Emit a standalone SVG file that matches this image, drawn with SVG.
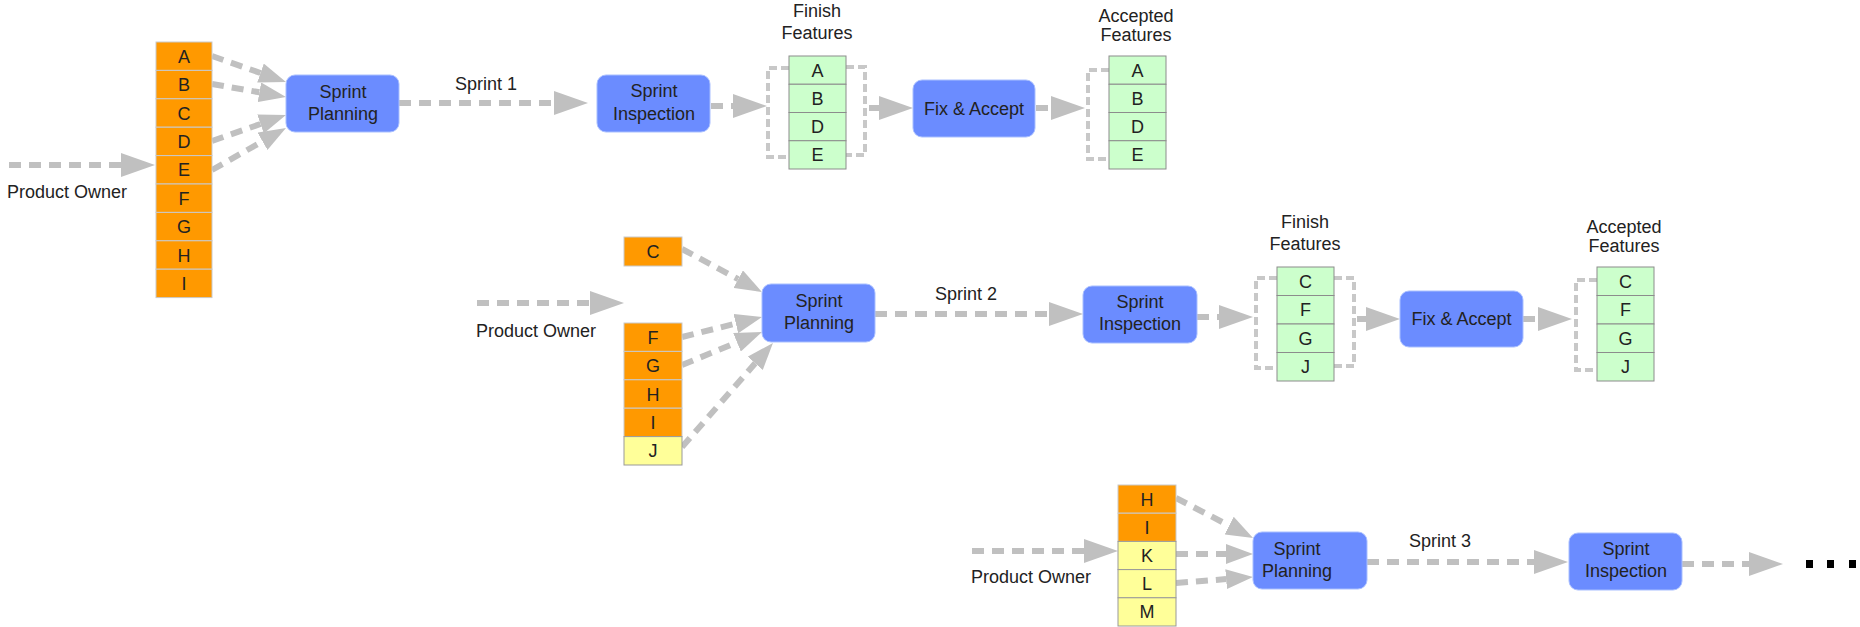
<svg xmlns="http://www.w3.org/2000/svg" width="1860" height="627" viewBox="0 0 1860 627">
<defs>
<style>
text{font-family:"Liberation Sans",Arial,sans-serif;font-size:18px;fill:#222}
.c{text-anchor:middle}
.box{fill:#6b8cff;stroke:#a9bfff;stroke-width:1}
.or{fill:#ff9900;stroke:#c9c9c9;stroke-width:1}
.ye{fill:#ffff99;stroke:#999;stroke-width:1}
.gr{fill:#ccffcc;stroke:#8c8c8c;stroke-width:1}
.ln{fill:none;stroke:#c0c0c0;stroke-width:6;stroke-dasharray:12 8}
.br{fill:none;stroke:#c8c8c8;stroke-width:4;stroke-dasharray:8 4}
</style>
<marker id="ah" markerUnits="userSpaceOnUse" markerWidth="34" markerHeight="24" refX="0" refY="12" orient="auto" viewBox="0 0 34 24"><path d="M0,0 L34,12 L0,24 Z" fill="#c0c0c0"/></marker>
<marker id="ahs" markerUnits="userSpaceOnUse" markerWidth="27" markerHeight="20" refX="0" refY="10" orient="auto" viewBox="0 0 27 20"><path d="M0,0 L27,10 L0,20 Z" fill="#c0c0c0"/></marker>
</defs>
<rect width="1860" height="627" fill="#fff"/>

<g id="connectors">
<!-- row 1 -->
<path class="ln" d="M9,165 H121" marker-end="url(#ah)"/>
<path class="ln" d="M212,56 L260.5,73" marker-end="url(#ahs)"/>
<path class="ln" d="M212,84 L259.4,92.3" marker-end="url(#ahs)"/>
<path class="ln" d="M212,141 L260.5,124" marker-end="url(#ahs)"/>
<path class="ln" d="M212,170 L262.5,141.3" marker-end="url(#ahs)"/>
<path class="ln" d="M399,103 H554" marker-end="url(#ah)"/>
<path class="ln" d="M711,106 H733" marker-end="url(#ah)"/>
<path class="ln" d="M869,108 H879" marker-end="url(#ah)"/>
<path class="ln" d="M1036,108 H1051" marker-end="url(#ah)"/>
<path class="br" d="M789,68 H768 V157 H789"/>
<path class="br" d="M846,67 H865 V155 H846"/>
<path class="br" d="M1109,70 H1088 V159 H1109"/>
<!-- row 2 -->
<path class="ln" d="M477,303 H590" marker-end="url(#ah)"/>
<path class="ln" d="M682,249 L738.2,279.2" marker-end="url(#ahs)"/>
<path class="ln" d="M682,337 L735.8,323.6" marker-end="url(#ahs)"/>
<path class="ln" d="M682,365 L737,342.3" marker-end="url(#ahs)"/>
<path class="ln" d="M682,447 L755.2,363.3" marker-end="url(#ahs)"/>
<path class="ln" d="M875,314 H1049" marker-end="url(#ah)"/>
<path class="ln" d="M1197,317 H1219" marker-end="url(#ah)"/>
<path class="ln" d="M1357,319 H1366" marker-end="url(#ah)"/>
<path class="ln" d="M1523,319 H1538" marker-end="url(#ah)"/>
<path class="br" d="M1277,278 H1256 V368 H1277"/>
<path class="br" d="M1334,278 H1354 V366 H1334"/>
<path class="br" d="M1597,280 H1576 V370 H1597"/>
<!-- row 3 -->
<path class="ln" d="M972,551 H1084" marker-end="url(#ah)"/>
<path class="ln" d="M1176,498 L1229.1,525.6" marker-end="url(#ahs)"/>
<path class="ln" d="M1176,554 H1226" marker-end="url(#ahs)"/>
<path class="ln" d="M1176,583 L1226.1,579.1" marker-end="url(#ahs)"/>
<path class="ln" d="M1367,562 H1534" marker-end="url(#ah)"/>
<path class="ln" d="M1682,564 H1749" marker-end="url(#ah)"/>
</g>

<!-- ROW 1 -->
<g id="po1"><text x="7" y="198">Product Owner</text></g>
<g id="backlog1">
<rect class="or" x="156" y="42" width="56" height="28.4"/><text class="c" x="184" y="62.7">A</text>
<rect class="or" x="156" y="70.4" width="56" height="28.4"/><text class="c" x="184" y="91.1">B</text>
<rect class="or" x="156" y="98.8" width="56" height="28.4"/><text class="c" x="184" y="119.5">C</text>
<rect class="or" x="156" y="127.2" width="56" height="28.4"/><text class="c" x="184" y="147.9">D</text>
<rect class="or" x="156" y="155.6" width="56" height="28.4"/><text class="c" x="184" y="176.3">E</text>
<rect class="or" x="156" y="184" width="56" height="28.4"/><text class="c" x="184" y="204.7">F</text>
<rect class="or" x="156" y="212.4" width="56" height="28.4"/><text class="c" x="184" y="233.1">G</text>
<rect class="or" x="156" y="240.8" width="56" height="28.4"/><text class="c" x="184" y="261.5">H</text>
<rect class="or" x="156" y="269.2" width="56" height="28.4"/><text class="c" x="184" y="289.9">I</text>
</g>
<g id="planning1"><rect class="box" x="286" y="75" width="113" height="57" rx="9"/><text class="c" x="343" y="98">Sprint</text><text class="c" x="343" y="120">Planning</text></g>
<g id="sprint1"><text class="c" x="486" y="90">Sprint 1</text></g>
<g id="inspection1"><rect class="box" x="597" y="75" width="113" height="57" rx="9"/><text class="c" x="654" y="97">Sprint</text><text class="c" x="654" y="120">Inspection</text></g>
<g id="finish1">
<text class="c" x="817" y="17">Finish</text><text class="c" x="817" y="39">Features</text>
<rect class="gr" x="789" y="56" width="57" height="28.25"/><text class="c" x="817.5" y="76.6">A</text>
<rect class="gr" x="789" y="84.25" width="57" height="28.25"/><text class="c" x="817.5" y="104.9">B</text>
<rect class="gr" x="789" y="112.5" width="57" height="28.25"/><text class="c" x="817.5" y="133.1">D</text>
<rect class="gr" x="789" y="140.75" width="57" height="28.25"/><text class="c" x="817.5" y="161.4">E</text>
</g>
<g id="fix1"><rect class="box" x="913" y="80" width="122" height="57" rx="9"/><text class="c" x="974" y="115">Fix &amp; Accept</text></g>
<g id="accepted1">
<text class="c" x="1136" y="22">Accepted</text><text class="c" x="1136" y="41">Features</text>
<rect class="gr" x="1109" y="56" width="57" height="28.25"/><text class="c" x="1137.5" y="76.6">A</text>
<rect class="gr" x="1109" y="84.25" width="57" height="28.25"/><text class="c" x="1137.5" y="104.9">B</text>
<rect class="gr" x="1109" y="112.5" width="57" height="28.25"/><text class="c" x="1137.5" y="133.1">D</text>
<rect class="gr" x="1109" y="140.75" width="57" height="28.25"/><text class="c" x="1137.5" y="161.4">E</text>
</g>

<!-- ROW 2 -->
<g id="po2"><text x="476" y="337">Product Owner</text></g>
<g id="backlog2">
<rect class="or" x="624" y="237" width="58" height="29"/><text class="c" x="653" y="258">C</text>
<rect class="or" x="624" y="323" width="58" height="28.4"/><text class="c" x="653" y="343.7">F</text>
<rect class="or" x="624" y="351.4" width="58" height="28.4"/><text class="c" x="653" y="372.1">G</text>
<rect class="or" x="624" y="379.8" width="58" height="28.4"/><text class="c" x="653" y="400.5">H</text>
<rect class="or" x="624" y="408.2" width="58" height="28.4"/><text class="c" x="653" y="428.9">I</text>
<rect class="ye" x="624" y="436.6" width="58" height="28.4"/><text class="c" x="653" y="457.3">J</text>
</g>
<g id="planning2"><rect class="box" x="762" y="284" width="113" height="58" rx="9"/><text class="c" x="819" y="307">Sprint</text><text class="c" x="819" y="329">Planning</text></g>
<g id="sprint2"><text class="c" x="966" y="300">Sprint 2</text></g>
<g id="inspection2"><rect class="box" x="1083" y="286" width="114" height="57" rx="9"/><text class="c" x="1140" y="308">Sprint</text><text class="c" x="1140" y="330">Inspection</text></g>
<g id="finish2">
<text class="c" x="1305" y="228">Finish</text><text class="c" x="1305" y="250">Features</text>
<rect class="gr" x="1277" y="267" width="57" height="28.5"/><text class="c" x="1305.5" y="287.7">C</text>
<rect class="gr" x="1277" y="295.5" width="57" height="28.5"/><text class="c" x="1305.5" y="316.2">F</text>
<rect class="gr" x="1277" y="324" width="57" height="28.5"/><text class="c" x="1305.5" y="344.7">G</text>
<rect class="gr" x="1277" y="352.5" width="57" height="28.5"/><text class="c" x="1305.5" y="373.2">J</text>
</g>
<g id="fix2"><rect class="box" x="1400" y="291" width="123" height="56" rx="9"/><text class="c" x="1461.5" y="325">Fix &amp; Accept</text></g>
<g id="accepted2">
<text class="c" x="1624" y="233">Accepted</text><text class="c" x="1624" y="252">Features</text>
<rect class="gr" x="1597" y="267" width="57" height="28.5"/><text class="c" x="1625.5" y="287.7">C</text>
<rect class="gr" x="1597" y="295.5" width="57" height="28.5"/><text class="c" x="1625.5" y="316.2">F</text>
<rect class="gr" x="1597" y="324" width="57" height="28.5"/><text class="c" x="1625.5" y="344.7">G</text>
<rect class="gr" x="1597" y="352.5" width="57" height="28.5"/><text class="c" x="1625.5" y="373.2">J</text>
</g>

<!-- ROW 3 -->
<g id="po3"><text x="971" y="583">Product Owner</text></g>
<g id="backlog3">
<rect class="or" x="1118" y="485" width="58" height="28.2"/><text class="c" x="1147" y="505.6">H</text>
<rect class="or" x="1118" y="513.2" width="58" height="28.2"/><text class="c" x="1147" y="533.8">I</text>
<rect class="ye" x="1118" y="541.4" width="58" height="28.2"/><text class="c" x="1147" y="562">K</text>
<rect class="ye" x="1118" y="569.6" width="58" height="28.2"/><text class="c" x="1147" y="590.2">L</text>
<rect class="ye" x="1118" y="597.8" width="58" height="28.2"/><text class="c" x="1147" y="618.4">M</text>
</g>
<g id="planning3"><rect class="box" x="1253" y="532" width="114" height="57" rx="9"/><text class="c" x="1297" y="555">Sprint</text><text class="c" x="1297" y="577">Planning</text></g>
<g id="sprint3"><text class="c" x="1440" y="547">Sprint 3</text></g>
<g id="inspection3"><rect class="box" x="1569" y="533" width="113" height="57" rx="9"/><text class="c" x="1626" y="555">Sprint</text><text class="c" x="1626" y="577">Inspection</text></g>
<g id="ellipsis">
<rect x="1806" y="560" width="7" height="8" fill="#000"/>
<rect x="1827" y="560" width="7" height="8" fill="#000"/>
<rect x="1849" y="560" width="7" height="8" fill="#000"/>
</g>
</svg>
